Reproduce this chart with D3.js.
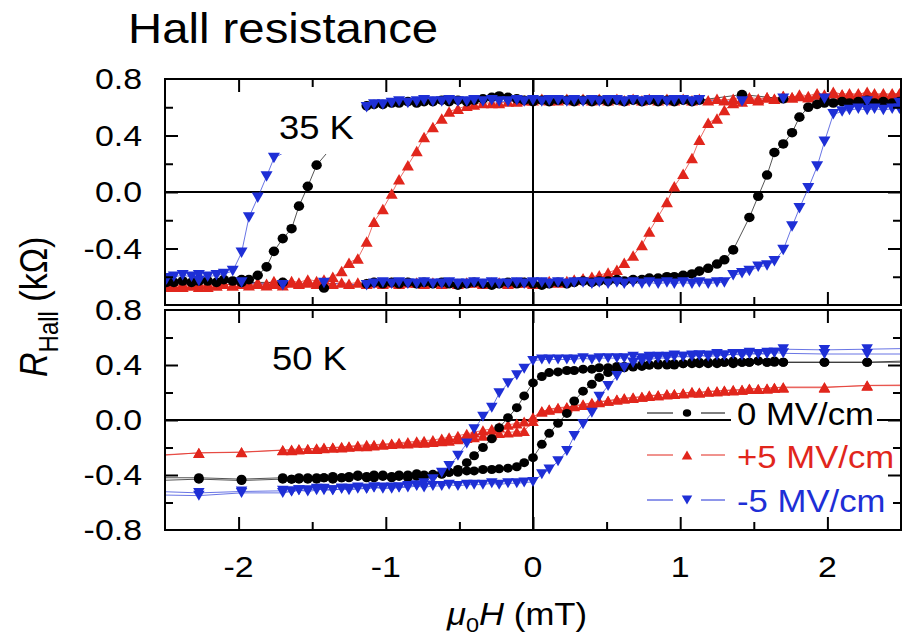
<!DOCTYPE html>
<html>
<head>
<meta charset="utf-8">
<title>Hall resistance</title>
<script src="https://cdn.jsdelivr.net/npm/d3@7"></script>
<style>
  html, body { margin: 0; padding: 0; background: #fff; }
  svg { display: block; }
  text { font-family: "Liberation Sans", Arial, Helvetica, sans-serif; }
</style>
</head>
<body>
<svg id="chart" width="903" height="644"></svg>
<script>
// ---- axis ticks and labels ----
const fieldMajor = [-2, -1, 0, 1, 2];
const fieldMinor = [-1.5, -0.5, 0.5, 1.5];
const fieldLabels = ["-2", "-1", "0", "1", "2"];
const rMajor = [-0.4, 0, 0.4];
const rMinor = [-0.6, -0.2, 0.2, 0.6];
const rTopValues = [0.8, 0.4, 0, -0.4];
const rTopLabels = ["0.8", "0.4", "0.0", "-0.4"];
const rBottomValues = [0.8, 0.4, 0, -0.4, -0.8];
const rBottomLabels = ["0.8", "0.4", "0.0", "-0.4", "-0.8"];

// ---- series ----
const seriesNames = ["0 MV/cm", "+5 MV/cm", "-5 MV/cm"];
const seriesColors = ["#000000", "#e1261c", "#1e2fd6"];
const seriesMarkers = ["circle", "up", "down"];
const panelLabels = ["35 K", "50 K"];

// 35 K loops, [field (mT), R_Hall (kOhm)] in sweep order
const black35Down = [[2.49,0.64],[2.27,0.65],[1.98,0.65],[1.70,0.66],[1.42,0.69],
  [1.13,0.65],[1.08,0.64],[1.02,0.65],[0.96,0.64],[0.91,0.65],[0.85,0.64],[0.79,0.65],[0.74,0.64],[0.68,0.65],[0.62,0.64],[0.57,0.65],[0.51,0.64],[0.45,0.65],[0.40,0.64],[0.34,0.65],[0.28,0.64],[0.23,0.65],[0.17,0.65],[0.11,0.64],[0.06,0.65],[0,0.64],
  [-0.06,0.65],[-0.11,0.66],[-0.17,0.67],[-0.23,0.68],[-0.28,0.67],[-0.34,0.66],[-0.40,0.65],[-0.45,0.64],[-0.51,0.65],[-0.57,0.64],[-0.62,0.65],[-0.68,0.64],[-0.74,0.64],[-0.79,0.63],[-0.85,0.64],[-0.91,0.63],[-0.96,0.63],[-1.02,0.62],[-1.08,0.62],[-1.13,0.61],
  [-1.47,0.19],[-1.53,0.04],[-1.59,-0.10],[-1.64,-0.26],[-1.70,-0.33],[-1.76,-0.42],[-1.81,-0.53],[-1.87,-0.59],[-1.93,-0.62],
  [-1.98,-0.62],[-2.04,-0.63],[-2.10,-0.62],[-2.15,-0.64],[-2.21,-0.63],[-2.27,-0.62],[-2.32,-0.64],[-2.38,-0.63],[-2.44,-0.64],[-2.49,-0.63]];
const black35Up = [[-2.49,-0.64],[-2.27,-0.63],[-1.98,-0.64],[-1.70,-0.64],[-1.42,-0.68],
  [-1.13,-0.65],[-1.08,-0.64],[-1.02,-0.65],[-0.96,-0.64],[-0.91,-0.65],[-0.85,-0.64],[-0.79,-0.65],[-0.74,-0.64],[-0.68,-0.65],[-0.62,-0.64],[-0.57,-0.65],[-0.51,-0.66],[-0.45,-0.65],[-0.40,-0.64],[-0.34,-0.65],[-0.28,-0.66],[-0.23,-0.65],[-0.17,-0.64],[-0.11,-0.65],[-0.06,-0.64],[0,-0.65],
  [0.06,-0.66],[0.11,-0.65],[0.17,-0.64],[0.23,-0.65],[0.28,-0.64],[0.34,-0.63],[0.40,-0.64],[0.45,-0.63],[0.51,-0.63],[0.57,-0.62],[0.62,-0.63],[0.68,-0.62],[0.74,-0.62],[0.79,-0.61],[0.85,-0.61],[0.91,-0.60],[0.96,-0.60],[1.02,-0.59],[1.08,-0.58],[1.13,-0.56],[1.19,-0.54],[1.25,-0.51],[1.30,-0.48],[1.36,-0.41],
  [1.47,-0.18],[1.53,-0.03],[1.59,0.12],[1.64,0.28],[1.70,0.34],[1.76,0.42],[1.81,0.53],[1.87,0.60],[1.93,0.62],[1.98,0.63],[2.04,0.63],[2.10,0.64],[2.15,0.63],[2.21,0.64],[2.27,0.63],[2.32,0.63],[2.38,0.64],[2.44,0.63],[2.49,0.63]];
const red35Down = [[2.49,0.69],[2.44,0.70],[2.38,0.68],[2.32,0.70],[2.27,0.69],[2.21,0.70],[2.15,0.68],[2.10,0.69],[2.04,0.70],[1.98,0.68],[1.93,0.69],[1.87,0.67],[1.81,0.68],[1.76,0.67],[1.70,0.68],[1.64,0.66],[1.59,0.67],[1.53,0.66],[1.47,0.67],[1.42,0.66],[1.36,0.66],[1.30,0.65],[1.25,0.66],[1.19,0.65],[1.13,0.66],[1.08,0.65],[1.02,0.66],[0.96,0.65],[0.91,0.66],[0.85,0.65],[0.79,0.66],[0.74,0.65],[0.68,0.66],[0.62,0.65],[0.57,0.66],[0.51,0.65],[0.45,0.66],[0.40,0.65],[0.34,0.66],[0.28,0.65],[0.23,0.66],[0.17,0.65],[0.11,0.65],[0.06,0.66],[0,0.65],
  [-0.06,0.65],[-0.11,0.64],[-0.17,0.64],[-0.23,0.63],[-0.28,0.63],[-0.34,0.63],[-0.40,0.62],[-0.45,0.61],[-0.51,0.59],[-0.57,0.57],[-0.62,0.52],[-0.68,0.46],[-0.74,0.39],[-0.79,0.29],[-0.85,0.19],[-0.91,0.09],[-0.96,-0.01],[-1.02,-0.12],[-1.08,-0.21],[-1.13,-0.35],[-1.19,-0.47],[-1.25,-0.50],[-1.30,-0.56],[-1.36,-0.60],[-1.42,-0.62],[-1.47,-0.63],[-1.53,-0.62],[-1.59,-0.64],[-1.64,-0.63],[-1.70,-0.64],[-1.76,-0.63],[-1.81,-0.65],[-1.87,-0.64],[-1.93,-0.65],[-1.98,-0.64],[-2.04,-0.66],[-2.10,-0.65],[-2.15,-0.66],[-2.21,-0.65],[-2.27,-0.67],[-2.32,-0.66],[-2.38,-0.67],[-2.44,-0.66],[-2.49,-0.67]];
const red35Up = [[-2.49,-0.66],[-2.44,-0.67],[-2.38,-0.65],[-2.32,-0.66],[-2.27,-0.65],[-2.21,-0.67],[-2.15,-0.66],[-2.10,-0.65],[-2.04,-0.66],[-1.98,-0.65],[-1.93,-0.66],[-1.87,-0.65],[-1.81,-0.66],[-1.76,-0.65],[-1.70,-0.66],[-1.64,-0.64],[-1.59,-0.65],[-1.53,-0.64],[-1.47,-0.65],[-1.42,-0.64],[-1.36,-0.65],[-1.30,-0.64],[-1.25,-0.65],[-1.19,-0.64],[-1.13,-0.65],[-1.08,-0.64],[-1.02,-0.65],[-0.96,-0.64],[-0.91,-0.65],[-0.85,-0.64],[-0.79,-0.64],[-0.74,-0.65],[-0.68,-0.64],[-0.62,-0.65],[-0.57,-0.64],[-0.51,-0.65],[-0.45,-0.64],[-0.40,-0.64],[-0.34,-0.65],[-0.28,-0.64],[-0.23,-0.64],[-0.17,-0.65],[-0.11,-0.64],[-0.06,-0.64],[0,-0.65],
  [0.06,-0.64],[0.11,-0.63],[0.17,-0.64],[0.23,-0.63],[0.28,-0.62],[0.34,-0.61],[0.40,-0.60],[0.45,-0.59],[0.51,-0.57],[0.57,-0.55],[0.62,-0.50],[0.68,-0.45],[0.74,-0.375],[0.79,-0.28],[0.85,-0.175],[0.91,-0.07],[0.96,0.04],[1.02,0.13],[1.08,0.24],[1.13,0.37],[1.19,0.49],[1.25,0.52],[1.30,0.58],[1.36,0.63],[1.42,0.64],[1.47,0.66],[1.53,0.65],[1.59,0.67],[1.64,0.66],[1.70,0.68],[1.76,0.67],[1.81,0.69],[1.87,0.68],[1.93,0.70],[1.98,0.69],[2.04,0.71],[2.10,0.69],[2.15,0.70],[2.21,0.69],[2.27,0.71],[2.32,0.69],[2.38,0.70],[2.44,0.69],[2.49,0.70]];
const blue35Down = [[2.49,0.63],[2.27,0.64],[1.98,0.66],[1.70,0.66],[1.42,0.64],
  [1.13,0.65],[1.08,0.64],[1.02,0.65],[0.96,0.65],[0.91,0.64],[0.85,0.65],[0.79,0.65],[0.74,0.64],[0.68,0.65],[0.62,0.64],[0.57,0.65],[0.51,0.65],[0.45,0.64],[0.40,0.65],[0.34,0.64],[0.28,0.65],[0.23,0.64],[0.17,0.65],[0.11,0.65],[0.06,0.64],[0,0.65],
  [-0.06,0.64],[-0.11,0.65],[-0.17,0.64],[-0.23,0.64],[-0.28,0.65],[-0.34,0.64],[-0.40,0.65],[-0.45,0.64],[-0.51,0.64],[-0.57,0.65],[-0.62,0.64],[-0.68,0.64],[-0.74,0.65],[-0.79,0.64],[-0.85,0.63],[-0.91,0.64],[-0.96,0.63],[-1.02,0.62],[-1.08,0.62],[-1.13,0.60],
  [-1.76,0.24],[-1.81,0.11],[-1.87,-0.04],[-1.93,-0.18],[-1.98,-0.43],[-2.04,-0.56],[-2.10,-0.58],[-2.15,-0.59],[-2.21,-0.60],[-2.27,-0.59],[-2.32,-0.60],[-2.38,-0.59],[-2.44,-0.60],[-2.49,-0.61]];
const blue35Up = [[-2.49,-0.62],[-2.27,-0.63],[-1.98,-0.64],[-1.70,-0.66],[-1.42,-0.645],
  [-1.13,-0.66],[-1.08,-0.65],[-1.02,-0.64],[-0.96,-0.65],[-0.91,-0.64],[-0.85,-0.65],[-0.79,-0.65],[-0.74,-0.64],[-0.68,-0.65],[-0.62,-0.65],[-0.57,-0.64],[-0.51,-0.65],[-0.45,-0.65],[-0.40,-0.64],[-0.34,-0.65],[-0.28,-0.64],[-0.23,-0.65],[-0.17,-0.65],[-0.11,-0.64],[-0.06,-0.65],[0,-0.64],
  [0.06,-0.64],[0.11,-0.65],[0.17,-0.64],[0.23,-0.65],[0.28,-0.64],[0.34,-0.64],[0.40,-0.65],[0.45,-0.64],[0.51,-0.65],[0.57,-0.64],[0.62,-0.65],[0.68,-0.64],[0.74,-0.65],[0.79,-0.64],[0.85,-0.65],[0.91,-0.64],[0.96,-0.65],[1.02,-0.64],[1.08,-0.65],[1.13,-0.64],[1.19,-0.65],[1.25,-0.64],[1.30,-0.64],
  [1.36,-0.59],[1.42,-0.575],[1.47,-0.56],[1.53,-0.53],[1.59,-0.52],[1.64,-0.49],[1.70,-0.41],[1.76,-0.245],[1.81,-0.115],[1.87,0.026],[1.93,0.18],[1.98,0.356],[2.04,0.55],[2.10,0.57],[2.15,0.58],[2.21,0.59],[2.27,0.58],[2.32,0.59],[2.38,0.58],[2.44,0.59],[2.49,0.59]];

// 50 K loops
const black50Down = [[2.55,0.43],[2.27,0.42],[1.98,0.42],[1.70,0.42],
  [1.64,0.43],[1.59,0.42],[1.53,0.43],[1.47,0.42],[1.42,0.42],[1.36,0.43],[1.30,0.42],[1.25,0.41],[1.19,0.42],[1.13,0.41],[1.08,0.42],[1.02,0.41],[0.96,0.41],[0.91,0.40],[0.85,0.41],[0.79,0.40],[0.74,0.40],[0.68,0.39],[0.62,0.39],[0.57,0.39],[0.51,0.38],[0.45,0.38],[0.40,0.37],[0.34,0.37],[0.28,0.36],[0.23,0.36],[0.17,0.35],[0.11,0.345],[0.06,0.316],
  [0,0.27],[-0.06,0.175],[-0.11,0.09],[-0.17,0.017],[-0.23,-0.056],[-0.28,-0.136],[-0.34,-0.20],[-0.40,-0.26],[-0.45,-0.31],[-0.51,-0.36],[-0.57,-0.38],[-0.62,-0.395],[-0.68,-0.40],[-0.74,-0.41],[-0.79,-0.41],[-0.85,-0.42],[-0.91,-0.41],[-0.96,-0.42],[-1.02,-0.41],[-1.08,-0.42],[-1.13,-0.42],[-1.19,-0.41],[-1.25,-0.42],[-1.30,-0.42],[-1.36,-0.43],[-1.42,-0.42],[-1.47,-0.43],[-1.53,-0.42],[-1.59,-0.43],[-1.64,-0.43],[-1.70,-0.42],
  [-1.98,-0.43],[-2.27,-0.42],[-2.55,-0.42]];
const black50Up = [[-2.55,-0.44],[-2.27,-0.43],[-1.98,-0.44],[-1.70,-0.43],
  [-1.64,-0.43],[-1.59,-0.42],[-1.53,-0.43],[-1.47,-0.42],[-1.42,-0.42],[-1.36,-0.41],[-1.30,-0.42],[-1.25,-0.41],[-1.19,-0.40],[-1.13,-0.41],[-1.08,-0.40],[-1.02,-0.40],[-0.96,-0.41],[-0.91,-0.40],[-0.85,-0.40],[-0.79,-0.39],[-0.74,-0.40],[-0.68,-0.395],[-0.62,-0.39],[-0.57,-0.38],[-0.51,-0.38],[-0.45,-0.37],[-0.40,-0.37],[-0.34,-0.36],[-0.28,-0.36],[-0.23,-0.355],[-0.17,-0.35],[-0.11,-0.34],[-0.06,-0.31],
  [0,-0.274],[0.06,-0.177],[0.11,-0.097],[0.17,-0.024],[0.23,0.048],[0.28,0.138],[0.34,0.21],[0.40,0.26],[0.45,0.31],[0.51,0.345],[0.57,0.365],[0.62,0.38],[0.68,0.385],[0.74,0.39],[0.79,0.40],[0.85,0.40],[0.91,0.41],[0.96,0.40],[1.02,0.41],[1.08,0.41],[1.13,0.42],[1.19,0.41],[1.25,0.42],[1.30,0.42],[1.36,0.41],[1.42,0.42],[1.47,0.42],[1.53,0.43],[1.59,0.42],[1.64,0.42],[1.70,0.42],
  [1.98,0.42],[2.27,0.42],[2.55,0.42]];
const red50Down = [[2.55,0.255],[2.27,0.252],[1.98,0.235],[1.70,0.235],
  [1.64,0.235],[1.59,0.23],[1.53,0.225],[1.47,0.23],[1.42,0.22],[1.36,0.22],[1.30,0.215],[1.25,0.21],[1.19,0.21],[1.13,0.20],[1.08,0.205],[1.02,0.195],[0.96,0.19],[0.91,0.19],[0.85,0.18],[0.79,0.18],[0.74,0.17],[0.68,0.165],[0.62,0.16],[0.57,0.15],[0.51,0.14],[0.45,0.13],[0.40,0.12],[0.34,0.11],[0.28,0.10],[0.23,0.09],[0.17,0.085],[0.11,0.075],[0.06,0.065],
  [0,0.02],[-0.06,-0.01],[-0.11,-0.025],[-0.17,-0.035],[-0.23,-0.05],[-0.28,-0.065],[-0.34,-0.075],[-0.40,-0.09],[-0.45,-0.10],[-0.51,-0.115],[-0.57,-0.125],[-0.62,-0.135],[-0.68,-0.145],[-0.74,-0.15],[-0.79,-0.155],[-0.85,-0.16],[-0.91,-0.165],[-0.96,-0.17],[-1.02,-0.175],[-1.08,-0.18],[-1.13,-0.18],[-1.19,-0.185],[-1.25,-0.19],[-1.30,-0.195],[-1.36,-0.20],[-1.42,-0.20],[-1.47,-0.205],[-1.53,-0.21],[-1.59,-0.21],[-1.64,-0.215],[-1.70,-0.22],
  [-1.98,-0.235],[-2.27,-0.24],[-2.55,-0.255]];
const red50Up = [[-2.55,-0.26],[-2.27,-0.238],[-1.98,-0.233],[-1.70,-0.218],
  [-1.64,-0.22],[-1.59,-0.215],[-1.53,-0.21],[-1.47,-0.21],[-1.42,-0.205],[-1.36,-0.20],[-1.30,-0.20],[-1.25,-0.195],[-1.19,-0.19],[-1.13,-0.19],[-1.08,-0.185],[-1.02,-0.18],[-0.96,-0.175],[-0.91,-0.17],[-0.85,-0.17],[-0.79,-0.165],[-0.74,-0.165],[-0.68,-0.16],[-0.62,-0.155],[-0.57,-0.15],[-0.51,-0.14],[-0.45,-0.13],[-0.40,-0.125],[-0.34,-0.115],[-0.28,-0.105],[-0.23,-0.095],[-0.17,-0.09],[-0.11,-0.085],[-0.06,-0.08],
  [0,-0.007],[0.06,0.06],[0.11,0.078],[0.17,0.09],[0.23,0.095],[0.28,0.105],[0.34,0.115],[0.40,0.125],[0.45,0.135],[0.51,0.14],[0.57,0.15],[0.62,0.155],[0.68,0.16],[0.74,0.17],[0.79,0.175],[0.85,0.18],[0.91,0.185],[0.96,0.19],[1.02,0.195],[1.08,0.20],[1.13,0.20],[1.19,0.205],[1.25,0.21],[1.30,0.215],[1.36,0.215],[1.42,0.22],[1.47,0.225],[1.53,0.225],[1.59,0.23],[1.64,0.235],[1.70,0.24],
  [1.98,0.24],[2.27,0.25],[2.55,0.25]];
const blue50Down = [[2.55,0.52],[2.27,0.515],[1.98,0.51],[1.70,0.515],
  [1.64,0.49],[1.59,0.49],[1.53,0.48],[1.47,0.49],[1.42,0.48],[1.36,0.48],[1.30,0.47],[1.25,0.48],[1.19,0.47],[1.13,0.47],[1.08,0.47],[1.02,0.46],[0.96,0.47],[0.91,0.46],[0.85,0.46],[0.79,0.46],[0.74,0.45],[0.68,0.46],[0.62,0.45],[0.57,0.45],[0.51,0.45],[0.45,0.45],[0.40,0.44],[0.34,0.45],[0.28,0.44],[0.23,0.44],[0.17,0.44],[0.11,0.44],[0.06,0.44],
  [0,0.43],[-0.06,0.373],[-0.11,0.325],[-0.17,0.267],[-0.23,0.194],[-0.28,0.09],[-0.34,0.024],[-0.40,-0.068],[-0.45,-0.17],[-0.51,-0.26],[-0.57,-0.335],[-0.62,-0.383],[-0.68,-0.43],[-0.74,-0.46],[-0.79,-0.475],[-0.85,-0.48],[-0.91,-0.49],[-0.96,-0.49],[-1.02,-0.50],[-1.08,-0.49],[-1.13,-0.50],[-1.19,-0.50],[-1.25,-0.51],[-1.30,-0.50],[-1.36,-0.51],[-1.42,-0.51],[-1.47,-0.50],[-1.53,-0.51],[-1.59,-0.51],[-1.64,-0.52],[-1.70,-0.515],
  [-1.98,-0.52],[-2.27,-0.53],[-2.55,-0.52]];
const blue50Up = [[-2.55,-0.545],[-2.27,-0.55],[-1.98,-0.53],[-1.70,-0.53],
  [-1.64,-0.52],[-1.59,-0.51],[-1.53,-0.52],[-1.47,-0.51],[-1.42,-0.50],[-1.36,-0.51],[-1.30,-0.50],[-1.25,-0.50],[-1.19,-0.49],[-1.13,-0.50],[-1.08,-0.49],[-1.02,-0.49],[-0.96,-0.50],[-0.91,-0.49],[-0.85,-0.49],[-0.79,-0.48],[-0.74,-0.49],[-0.68,-0.48],[-0.62,-0.48],[-0.57,-0.47],[-0.51,-0.48],[-0.45,-0.47],[-0.40,-0.47],[-0.34,-0.47],[-0.28,-0.46],[-0.23,-0.47],[-0.17,-0.46],[-0.11,-0.46],[-0.06,-0.455],
  [0,-0.45],[0.06,-0.395],[0.11,-0.36],[0.17,-0.30],[0.23,-0.225],[0.28,-0.116],[0.34,-0.03],[0.40,0.053],[0.45,0.17],[0.51,0.247],[0.57,0.32],[0.62,0.38],[0.68,0.415],[0.74,0.43],[0.79,0.44],[0.85,0.45],[0.91,0.45],[0.96,0.46],[1.02,0.46],[1.08,0.46],[1.13,0.47],[1.19,0.46],[1.25,0.47],[1.30,0.47],[1.36,0.48],[1.42,0.47],[1.47,0.48],[1.53,0.48],[1.59,0.48],[1.64,0.49],[1.70,0.485],
  [1.98,0.48],[2.27,0.48],[2.55,0.48]];

// ---- layout ----
const plotLeft = 165, plotRight = 901;
const panelBoxes = [{ top: 79, bottom: 305 }, { top: 310, bottom: 530 }];
const fontStretch = 1.13;   // glyphs in this figure are set slightly wide

const svg = d3.select("#chart");
const x = d3.scaleLinear().domain([-2.5, 2.5]).range([plotLeft, plotRight]);

// draw order within a panel: +5, 0, -5 (the -5 series sits on top)
const drawOrder = [1, 0, 2];
const panels = [
  { box: panelBoxes[0], sweeps: [[black35Down, black35Up], [red35Down, red35Up], [blue35Down, blue35Up]],
    values: rTopValues, labels: rTopLabels, tag: panelLabels[0], tagPos: [279, 139],
    circle: [5.2, 4.8], tri: [12, 10.5] },
  { box: panelBoxes[1], sweeps: [[black50Down, black50Up], [red50Down, red50Up], [blue50Down, blue50Up]],
    values: rBottomValues, labels: rBottomLabels, tag: panelLabels[1], tagPos: [272, 370],
    circle: [4.9, 4.5], tri: [11.5, 10] }
];

function wideText(parent, px, py, str, size, anchor, fill, sx) {
  return parent.append("text")
    .attr("transform", `translate(${px},${py}) scale(${sx || fontStretch},1)`)
    .attr("text-anchor", anchor)
    .attr("font-size", size)
    .attr("fill", fill || "#000")
    .text(str);
}

function markerShape(kind, w, h) {
  if (kind === "up") return `M${-w / 2},${h / 2}L${w / 2},${h / 2}L0,${-h / 2}Z`;
  return `M${-w / 2},${-h / 2}L${w / 2},${-h / 2}L0,${h / 2}Z`;
}

function drawMarkers(g, pts, kind, color, circ, tri, xs, ys) {
  if (kind === "circle") {
    g.selectAll(null).data(pts).join("ellipse")
      .attr("cx", d => xs(d[0])).attr("cy", d => ys(d[1]))
      .attr("rx", circ[0]).attr("ry", circ[1]).attr("fill", color);
  } else {
    g.selectAll(null).data(pts).join("path")
      .attr("d", markerShape(kind, tri[0], tri[1]))
      .attr("transform", d => `translate(${xs(d[0])},${ys(d[1])})`)
      .attr("fill", color);
  }
}

panels.forEach((p, pi) => {
  const y = d3.scaleLinear().domain([-0.8, 0.8]).range([p.box.bottom, p.box.top]);
  const g = svg.append("g");
  const clipId = "clip" + pi;
  svg.append("clipPath").attr("id", clipId).append("rect")
    .attr("x", plotLeft).attr("y", p.box.top)
    .attr("width", plotRight - plotLeft).attr("height", p.box.bottom - p.box.top);

  const inner = g.append("g").attr("clip-path", `url(#${clipId})`);

  // zero lines
  inner.append("line").attr("x1", plotLeft).attr("x2", plotRight)
    .attr("y1", y(0)).attr("y2", y(0)).attr("stroke", "#000").attr("stroke-width", 2);
  inner.append("line").attr("x1", x(0)).attr("x2", x(0))
    .attr("y1", p.box.top).attr("y2", p.box.bottom).attr("stroke", "#000").attr("stroke-width", 2);

  // connecting lines
  const line = d3.line().x(d => x(d[0])).y(d => y(d[1]));
  drawOrder.forEach(si => {
    p.sweeps[si].forEach(sweep => {
      inner.append("path").attr("d", line(sweep)).attr("fill", "none")
        .attr("stroke", seriesColors[si]).attr("stroke-width", 0.9).attr("stroke-opacity", 0.75);
    });
  });

  // opaque box behind the temperature tag
  if (pi === 0) {
    inner.append("rect").attr("x", 268).attr("y", 100).attr("width", 96).attr("height", 54).attr("fill", "#fff");
  }

  // symbols
  drawOrder.forEach(si => {
    p.sweeps[si].forEach(sweep => {
      drawMarkers(inner.append("g"), sweep, seriesMarkers[si], seriesColors[si], p.circle, p.tri, x, y);
    });
  });

  // frame
  g.append("rect").attr("x", plotLeft).attr("y", p.box.top)
    .attr("width", plotRight - plotLeft).attr("height", p.box.bottom - p.box.top)
    .attr("fill", "none").attr("stroke", "#000").attr("stroke-width", 2);

  // inward ticks on all four sides
  const tickGroups = [
    [d3.axisBottom(x), p.box.bottom, fieldMajor, 13, "h"],
    [d3.axisBottom(x), p.box.bottom, fieldMinor, 8, "h"],
    [d3.axisTop(x), p.box.top, fieldMajor, 13, "h"],
    [d3.axisTop(x), p.box.top, fieldMinor, 8, "h"],
    [d3.axisLeft(y), plotLeft, rMajor, 13, "v"],
    [d3.axisLeft(y), plotLeft, rMinor, 8, "v"],
    [d3.axisRight(y), plotRight, rMajor, 13, "v"],
    [d3.axisRight(y), plotRight, rMinor, 8, "v"]
  ];
  tickGroups.forEach(([axis, pos, vals, len, dir]) => {
    const ag = g.append("g")
      .attr("transform", dir === "h" ? `translate(0,${pos})` : `translate(${pos},0)`)
      .call(axis.tickValues(vals).tickSizeInner(-len).tickSizeOuter(0).tickFormat(""));
    ag.select(".domain").remove();
    ag.selectAll(".tick line").attr("stroke", "#000").attr("stroke-width", 2);
  });

  // R tick labels
  p.values.forEach((v, i) => {
    wideText(g, 142, y(v) + 10, p.labels[i], 30, "end");
  });

  // temperature tag
  wideText(g, p.tagPos[0], p.tagPos[1], p.tag, 34, "start", "#000", 1.07);

  // legend in the lower panel
  if (pi === 1) {
    const legendRows = [413, 455, 500];
    const legendBase = [425, 468, 512];
    svg.append("rect").attr("x", 731).attr("y", 403).attr("width", 146).attr("height", 26).attr("fill", "#fff");
    seriesNames.forEach((name, si) => {
      const ly = legendRows[si];
      svg.append("line").attr("x1", 647).attr("x2", 673).attr("y1", ly).attr("y2", ly)
        .attr("stroke", seriesColors[si]).attr("stroke-width", 1);
      svg.append("line").attr("x1", 701).attr("x2", 725).attr("y1", ly).attr("y2", ly)
        .attr("stroke", seriesColors[si]).attr("stroke-width", 1);
      const lg = svg.append("g");
      if (seriesMarkers[si] === "circle") {
        lg.append("ellipse").attr("cx", 687).attr("cy", ly).attr("rx", 4.2).attr("ry", 3.8).attr("fill", seriesColors[si]);
      } else {
        lg.append("path").attr("d", markerShape(seriesMarkers[si], 10.5, 9))
          .attr("transform", `translate(687,${ly})`).attr("fill", seriesColors[si]);
      }
      wideText(svg, 737, legendBase[si], name, 31, "start", seriesColors[si], 1.12);
    });
  }
});

// field tick labels
fieldMajor.forEach((v, i) => {
  wideText(svg, x(v), 577, fieldLabels[i], 30, "middle");
});

// title
wideText(svg, 128, 43, "Hall resistance", 43, "start", "#000", 1.1);

// x axis title: mu_0 H (mT)
const xt = svg.append("text")
  .attr("transform", `translate(447,625) scale(1.12,1)`)
  .attr("font-size", 31);
xt.append("tspan").attr("font-style", "italic").text("\u03bc");
xt.append("tspan").attr("font-size", 21).attr("dy", 7).text("0");
xt.append("tspan").attr("font-style", "italic").attr("dy", -7).text("H");
xt.append("tspan").text(" (mT)");

// y axis title: R_Hall (kOhm)
const yt = svg.append("text")
  .attr("transform", `translate(47,377) scale(1.13,1) rotate(-90)`)
  .attr("font-size", 34);
yt.append("tspan").attr("font-style", "italic").text("R");
yt.append("tspan").attr("font-size", 24).attr("dy", 10).text("Hall");
yt.append("tspan").attr("dy", -10).text(" (k\u03a9)");
</script>
</body>
</html>
